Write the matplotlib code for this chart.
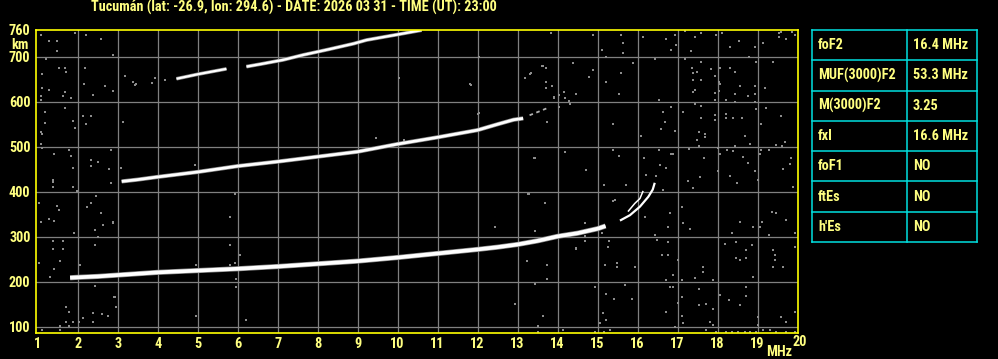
import matplotlib
matplotlib.use("Agg")
import matplotlib.pyplot as plt
from matplotlib.lines import Line2D
from matplotlib import font_manager

# ---------------- data ----------------
title_text = "Tucumán (lat: -26.9, lon: 294.6) - DATE: 2026 03 31 - TIME (UT): 23:00"

x_ticks = list(range(1, 21))
y_ticks = [100, 200, 300, 400, 500, 600, 700, 760]

# first hop, ordinary trace
hop1_f = [1.81, 2.0, 2.5, 3.0, 4.0, 5.0, 6.0, 7.0, 8.0, 9.0, 10.0, 11.0, 12.0, 12.5, 13.0, 13.5, 14.0, 14.5, 15.0, 15.2]
hop1_h = [209, 210, 212, 215, 221, 225, 229, 234, 240, 246, 254, 263, 272, 277, 283, 291, 301, 308, 318, 324]
# cusp near foF2 (two branches)
cusp_lo_f = [15.56, 15.81, 16.06, 16.27, 16.38, 16.43]
cusp_lo_h = [336, 348, 367, 389, 405, 420]
cusp_hi_f = [15.76, 15.93, 16.06, 16.14]
cusp_hi_h = [356, 374, 385, 402]
# second hop
hop2_f = [3.1, 3.5, 4.0, 5.0, 6.0, 7.0, 8.0, 9.0, 10.0, 11.0, 12.0, 12.5, 12.9, 13.14]
hop2_h = [423, 427, 433, 444, 457, 467, 478, 489, 506, 521, 537, 550, 560, 563]
hop2_tail_f = [13.3, 13.5, 13.72]
hop2_tail_h = [570, 577, 585]
# third hop
hop3a_f = [4.47, 5.0, 5.72]
hop3a_h = [651, 661, 673]
hop3b_f = [6.22, 6.6, 7.14, 7.64, 8.26, 8.9, 9.22, 9.98, 10.6]
hop3b_h = [678, 684, 693, 704, 716, 729, 737, 749, 759]

# scattered noise echoes (freq MHz, virtual height km)
noise_f = [1.08, 1.28, 1.48, 1.48, 1.93, 2.22, 2.58, 2.88, 1.20, 1.12, 1.53, 1.68, 1.72, 2.18, 2.17, 2.68,
           1.12, 1.29, 1.68, 1.63, 1.08, 1.08, 1.83, 2.38, 1.68, 1.18, 1.18, 1.88, 2.13, 2.33, 2.22, 1.93,
           1.08, 1.12, 1.08, 1.12, 1.42, 1.78, 1.83, 1.88, 2.33, 2.33, 2.52, 2.78, 1.38, 1.38, 1.38, 1.88,
           2.83, 1.98, 1.03, 1.48, 1.53, 2.47, 2.33, 2.23, 2.58, 1.08, 1.28, 1.42, 2.63, 2.89, 1.92, 2.43,
           2.52, 1.38, 1.63, 1.38, 1.63, 2.43, 1.57, 1.03, 1.42, 2.07, 1.32, 2.43, 2.93, 1.72, 1.78, 2.39,
           2.62, 2.77, 1.72, 1.88, 2.03, 2.13, 2.38, 1.57, 1.78, 1.12, 1.57, 2.97,
           3.18, 3.39, 3.43, 3.47, 3.93, 3.87, 4.18, 12.04, 10.03, 11.83, 12.04, 3.13, 2.83, 2.78, 3.08,
           2.83, 2.88, 4.93, 9.47, 10.17, 12.01, 13.42, 13.73, 13.91, 5.93, 5.82, 2.88, 5.82, 6.07, 5.93,
           5.82, 5.97, 5.97, 2.92, 4.97, 6.22, 12.43, 13.23, 12.93, 13.28, 4.97, 2.68, 11.82, 13.18, 13.32,
           13.62, 13.72, 13.72, 13.72, 13.68, 13.43, 13.73, 13.73, 14.68, 14.68, 14.68, 14.47, 15.12, 15.29,
           15.18, 15.48, 15.48, 15.93, 16.18, 16.43, 16.48, 15.39,
           13.83, 14.88, 15.58, 16.13, 16.72, 16.93, 17.18, 17.43, 17.58, 17.97, 18.12, 19.53, 19.53, 19.72,
           19.85, 15.12, 15.64, 15.64, 15.22, 16.83, 16.95, 17.33, 18.53, 18.32, 18.93, 19.14, 18.78, 15.89,
           16.43, 17.18, 17.58, 18.97, 19.39, 13.63, 13.33, 14.38, 14.88, 14.78, 15.58, 15.22, 13.87,
           14.03, 14.17, 14.47, 13.91, 14.18, 14.28, 14.03, 14.32, 15.53, 17.35, 17.38, 17.48, 17.58, 17.38,
           17.83, 17.93, 18.07, 18.32, 18.43, 18.03, 18.07, 18.57, 18.93, 19.18, 17.43, 17.38, 17.93, 18.03,
           18.43, 18.77, 18.93, 17.93, 18.22, 18.43, 18.93, 18.96, 19.22, 17.58, 17.43, 16.83, 17.13, 16.53,
           16.63, 16.68, 16.58, 16.93, 16.08, 15.38, 17.58, 17.93, 17.93, 18.22, 18.22, 18.39, 18.62, 19.08,
           19.58, 17.53, 17.68, 17.68, 17.48, 18.68, 18.82, 17.53, 17.28, 18.02, 18.43, 18.24, 18.38, 19.08,
           19.28, 19.47, 19.62, 19.68, 16.83, 16.53, 15.38, 15.53, 14.18, 13.43, 16.16, 17.66, 18.06, 18.64,
           19.06, 19.83, 19.58, 19.93,
           14.72, 13.27, 14.47, 13.43, 13.64, 13.52, 13.52, 14.14, 14.93, 14.93, 15.06, 15.22, 15.22,
           15.42, 15.87, 15.68, 15.14, 15.16, 15.31, 15.27, 15.43, 15.16, 15.72, 16.64, 16.77, 16.77,
           16.62, 16.77, 17.02, 16.89, 16.70, 16.89, 17.10, 17.43, 17.63, 17.63, 17.89, 17.53, 17.53, 17.70,
           17.89, 17.10, 17.10, 17.14, 16.93, 16.72, 16.81, 17.02, 17.72, 17.81, 17.89, 17.97, 18.22, 18.35,
           18.52, 18.68, 18.81, 18.97, 19.14, 19.31, 19.47, 19.72, 19.93, 18.07, 18.29, 18.56, 18.72, 18.72,
           19.01, 19.01, 19.58, 19.72, 19.93, 18.02, 18.31, 18.48, 18.77, 18.93, 19.01, 19.64, 19.81, 19.89,
           19.35, 19.47, 19.72, 19.93, 19.29, 19.10, 18.56, 18.89, 19.06, 18.35, 18.18, 18.47, 18.72, 18.85,
           18.47, 18.72, 18.56, 19.39, 19.43, 19.43, 19.39, 19.64, 18.89, 19.93, 17.56, 17.27, 17.10, 17.14,
           17.31, 16.81, 17.39, 16.89, 16.56, 16.22, 16.47, 16.72]
noise_h = [748, 736, 735, 713, 753, 748, 739, 704, 694, 662, 675, 675, 667, 674, 639, 635,
           631, 627, 622, 613, 613, 604, 608, 615, 587, 577, 553, 558, 568, 568, 550, 542,
           533, 528, 506, 498, 484, 493, 479, 453, 470, 458, 466, 451, 426, 422, 411, 411,
           420, 402, 376, 369, 359, 391, 376, 367, 353, 333, 339, 336, 327, 332, 309, 316,
           299, 291, 291, 273, 273, 282, 247, 241, 229, 237, 211, 191, 167, 143, 133, 130,
           128, 125, 111, 111, 111, 120, 111, 102, 102, 93, 93, 144,
           657, 644, 637, 639, 653, 642, 648, 700, 653, 637, 574, 556, 493, 450, 453,
           420, 624, 459, 519, 515, 573, 474, 556, 610, 396, 344, 331, 282, 259, 242,
           237, 206, 188, 167, 124, 115, 322, 246, 150, 395, 237, 636, 639, 652, 662,
           679, 676, 644, 631, 376, 313, 237, 206, 331, 302, 291, 274, 308, 291,
           237, 242, 233, 233, 344, 304, 294, 379,
           753, 748, 748, 744, 739, 748, 758, 743, 753, 749, 753, 752, 744, 739,
           756, 715, 730, 709, 700, 715, 726, 713, 736, 722, 722, 731, 700, 687,
           695, 695, 689, 689, 689, 680, 663, 685, 670, 656, 663, 644, 635,
           615, 622, 617, 609, 609, 602, 588, 595, 617, 676, 663, 665, 648, 648,
           673, 658, 676, 676, 667, 644, 639, 635, 635, 631, 626, 622, 620, 624,
           617, 613, 617, 604, 604, 599, 599, 583, 585, 590, 595, 588, 578, 604,
           578, 556, 539, 536, 524, 550, 564, 570, 559, 573, 564, 564, 564, 550,
           568, 533, 528, 521, 515, 524, 506, 502, 495, 498, 502, 493, 490, 493,
           493, 504, 502, 510, 485, 493, 493, 479, 489, 476, 474, 476, 485, 478,
           484, 476, 756, 748,
           448, 396, 276, 196, 125, 102, 89, 93, 188, 89, 108, 115, 174,
           162, 162, 193, 130, 89, 93, 278, 382, 415, 415, 404, 321, 289,
           259, 259, 248, 215, 205, 189, 204, 209, 222, 233, 204, 185, 148, 150,
           139, 167, 125, 108, 100, 133, 189, 152, 93, 110, 104, 89, 89, 89,
           89, 89, 89, 89, 93, 93, 89, 89, 89, 170, 159, 148, 189, 169,
           122, 104, 122, 110, 132, 447, 436, 419, 463, 447, 426, 450, 462, 411,
           356, 352, 337, 309, 304, 333, 333, 322, 322, 309, 285, 289, 270, 282,
           252, 252, 248, 270, 259, 248, 233, 233, 211, 278, 433, 424, 367, 331,
           317, 352, 408, 485, 459, 437, 436, 452]

# parameter table
param_names = ["foF2", "MUF(3000)F2", "M(3000)F2", "fxI", "foF1", "ftEs", "h'Es"]
param_values = ["16.4 MHz", "53.3 MHz", "3.25", "16.6 MHz", "NO", "NO", "NO"]

# ---------------- style ----------------
installed = {f.name for f in font_manager.fontManager.ttflist}
FONT = [f for f in ["Liberation Sans Narrow", "Roboto Condensed", "Roboto", "DejaVu Sans"] if f in installed]
TXT = "#FFFF80"
SPINE = "#FFFF00"
GRID = "#808080"
CYAN = "#00E0E0"
FS = 10.3
W, H = 998, 359

def tkw(fs=FS):
    return dict(color=TXT, fontfamily=FONT, fontweight="bold", fontstretch="condensed", fontsize=fs)

fig = plt.figure(figsize=(W / 100, H / 100), dpi=100, facecolor="black")

ax = fig.add_axes([36 / W, (H - 332.7) / H, (797.5 - 36) / W, (332.7 - 29.7) / H])
ax.set_facecolor("black")
ax.set_xlim(0.9575, 20.0)
ax.set_ylim(87, 760)

for s in ax.spines.values():
    s.set_color(SPINE)
    s.set_linewidth(1.2)
    s.set_zorder(6)

ax.set_xticks(x_ticks)
ax.set_yticks(y_ticks)
ax.set_xticklabels([str(v) for v in x_ticks[:-1]] + [""])
ax.set_yticklabels([str(v) for v in y_ticks])
ax.tick_params(axis="x", length=0, colors=TXT, pad=3)
ax.tick_params(axis="y", length=0, colors=TXT, pad=4)
for lab in ax.get_xticklabels() + ax.get_yticklabels():
    lab.set(**tkw())

for f in x_ticks[1:-1]:
    ax.axvline(f, color=GRID, lw=0.9, zorder=1)
for h in y_ticks[:-1]:
    ax.axhline(h, color=GRID, lw=0.9, zorder=1)

# noise
ax.plot(noise_f, noise_h, ls="none", marker="s", ms=1.9, mew=0, color="#8c8c8c", zorder=2)

# traces
def trace(fs, hs, lw, fringe=True):
    if fringe:
        ax.plot(fs, hs, color="#8a8a8a", lw=lw + 1.0, solid_capstyle="butt", zorder=3)
    ax.plot(fs, hs, color="white", lw=lw, solid_capstyle="butt", zorder=4)

trace(hop1_f, hop1_h, 2.7)
trace(cusp_lo_f, cusp_lo_h, 1.6, fringe=False)
trace(cusp_hi_f, cusp_hi_h, 1.1, fringe=False)
trace(hop2_f, hop2_h, 2.0)
ax.plot(hop2_tail_f, hop2_tail_h, color="#b0b0b0", lw=1.3, ls=(0, (2, 2)), zorder=3)
trace(hop3a_f, hop3a_h, 1.6)
trace(hop3b_f, hop3b_h, 1.7)

# axis texts
fig.text(91 / W, 1 - 7 / H, title_text, ha="left", va="center", **tkw())
fig.text(20 / W, 1 - 45 / H, "km", ha="center", va="center", **tkw())
fig.text(779 / W, 1 - 352 / H, "MHz", ha="center", va="center", **tkw())
fig.text(800 / W, 1 - 342 / H, "20", ha="center", va="center", **tkw())

# parameter table
tx0, tx1, ty0, ty1 = 812, 977, 30, 242
tab = fig.add_axes([tx0 / W, (H - ty1) / H, (tx1 - tx0) / W, (ty1 - ty0) / H])
tab.set_xlim(0, 1)
tab.set_ylim(len(param_names), 0)
tab.axis("off")
split = (907 - tx0) / (tx1 - tx0)
n = len(param_names)
for i in range(n + 1):
    tab.add_line(Line2D([0, 1], [i, i], color=CYAN, lw=1.1, clip_on=False))
for xv in (0, split, 1):
    tab.add_line(Line2D([xv, xv], [0, n], color=CYAN, lw=1.1, clip_on=False))
for i, (nm, val) in enumerate(zip(param_names, param_values)):
    tab.text((818 - tx0) / (tx1 - tx0), i + 0.5, nm, ha="left", va="center", **tkw())
    tab.text((913 - tx0) / (tx1 - tx0), i + 0.5, val, ha="left", va="center", **tkw())

fig.savefig("out.png", dpi=100, facecolor="black")
